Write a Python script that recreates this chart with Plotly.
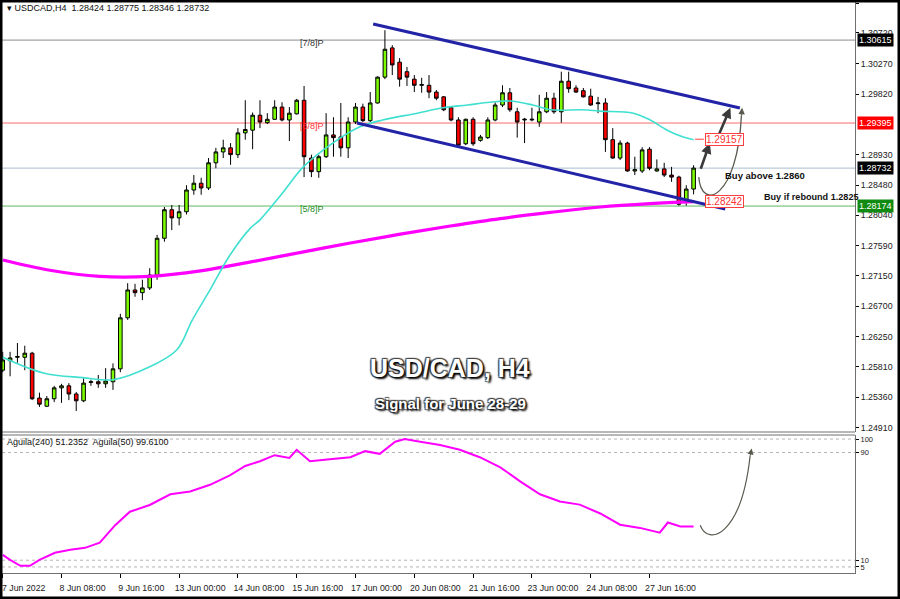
import plotly.graph_objects as go

# ---------------- data ----------------
bars = list(range(95))
opens = [1.2576, 1.2590, 1.2595, 1.2595, 1.2601, 1.2535, 1.2523, 1.2534, 1.2550, 1.2553,
         1.2541, 1.2531, 1.2558, 1.2559, 1.2556, 1.2559, 1.2578, 1.2653, 1.2694, 1.2690,
         1.2697, 1.2716, 1.2770, 1.2812, 1.2800, 1.2809, 1.2841, 1.2851, 1.2844, 1.2881,
         1.2897, 1.2903, 1.2893, 1.2925, 1.2929, 1.2951, 1.2940, 1.2945, 1.2963, 1.2944,
         1.2953, 1.2973, 1.2888, 1.2868, 1.2890, 1.2922, 1.2919, 1.2903, 1.2941, 1.2963,
         1.2943, 1.2969, 1.3007, 1.3050, 1.3029, 1.3015, 1.3004, 1.2995, 1.2995, 1.2985,
         1.2978, 1.2962, 1.2944, 1.2909, 1.2945, 1.2914, 1.2918, 1.2944, 1.2966, 1.2984,
         1.2956, 1.2944, 1.2944, 1.2941, 1.2956, 1.2976, 1.2956, 1.3001, 1.2991, 1.2987,
         1.2979, 1.2968, 1.2969, 1.2915, 1.2888, 1.2910, 1.2869, 1.2869, 1.2901, 1.2869,
         1.2872, 1.2863, 1.2860, 1.2826, 1.28424]
highs = [1.2603, 1.2603, 1.2616, 1.2612, 1.2603, 1.2543, 1.2538, 1.2553, 1.2556, 1.2557,
         1.2544, 1.2564, 1.2562, 1.2569, 1.2579, 1.2586, 1.2659, 1.2704, 1.2703, 1.2709,
         1.2726, 1.2775, 1.2816, 1.2819, 1.2819, 1.2848, 1.2863, 1.2859, 1.2888, 1.2903,
         1.2915, 1.2910, 1.2932, 1.2973, 1.2955, 1.2973, 1.2954, 1.2973, 1.2970, 1.2963,
         1.2975, 1.2994, 1.2893, 1.2893, 1.2954, 1.2948, 1.2969, 1.2948, 1.2969, 1.2968,
         1.2985, 1.3008, 1.3076, 1.3054, 1.3035, 1.3022, 1.3010, 1.3006, 1.3010, 1.2988,
         1.2979, 1.2963, 1.2948, 1.2946, 1.2948, 1.2922, 1.2948, 1.2970, 1.2995, 1.2991,
         1.2962, 1.2947, 1.2962, 1.2981, 1.2985, 1.2984, 1.3015, 1.3015, 1.2995, 1.2991,
         1.2990, 1.2978, 1.2976, 1.2932, 1.2914, 1.2912, 1.2890, 1.2904, 1.2904, 1.2886,
         1.2881, 1.2875, 1.2862, 1.2848, 1.28775]
lows = [1.2573, 1.2567, 1.2587, 1.2576, 1.2532, 1.2522, 1.2522, 1.2529, 1.2528, 1.2532,
        1.2516, 1.2529, 1.2553, 1.2550, 1.2550, 1.2547, 1.2573, 1.2650, 1.2684, 1.2679,
        1.2694, 1.2709, 1.2765, 1.2782, 1.2789, 1.2805, 1.2834, 1.2834, 1.2841, 1.2873,
        1.2888, 1.2878, 1.2888, 1.2915, 1.2901, 1.2932, 1.2938, 1.2944, 1.2942, 1.2913,
        1.2952, 1.2860, 1.2860, 1.2859, 1.2888, 1.2890, 1.2890, 1.2888, 1.2938, 1.2941,
        1.2941, 1.2968, 1.3004, 1.3010, 1.2993, 1.2994, 1.2985, 1.2984, 1.2976, 1.2973,
        1.2957, 1.2942, 1.2906, 1.2907, 1.2906, 1.2912, 1.2916, 1.2942, 1.2963, 1.2956,
        1.2918, 1.2910, 1.2942, 1.2934, 1.2954, 1.2953, 1.2940, 1.2984, 1.2984, 1.2977,
        1.2965, 1.2954, 1.2897, 1.2887, 1.2885, 1.2868, 1.2863, 1.2866, 1.2870, 1.2868,
        1.2860, 1.2853, 1.2818, 1.2818, 1.28346]
closes = [1.2591, 1.2594, 1.2596, 1.2601, 1.2534, 1.2526, 1.2534, 1.2550, 1.2553, 1.2541,
          1.2531, 1.2557, 1.2559, 1.2556, 1.2560, 1.2578, 1.2653, 1.2694, 1.2690, 1.2697,
          1.2716, 1.2770, 1.2812, 1.2800, 1.2809, 1.2841, 1.2851, 1.2844, 1.2881, 1.2897,
          1.2903, 1.2893, 1.2925, 1.2930, 1.2951, 1.2941, 1.2945, 1.2963, 1.2944, 1.2954,
          1.2973, 1.2890, 1.2868, 1.2890, 1.2922, 1.2918, 1.2903, 1.2941, 1.2963, 1.2943,
          1.2969, 1.3007, 1.3048, 1.3025, 1.3004, 1.3007, 1.2995, 1.2996, 1.2985, 1.2976,
          1.2959, 1.2944, 1.2907, 1.2945, 1.2909, 1.2919, 1.2944, 1.2966, 1.2984, 1.2959,
          1.2941, 1.2945, 1.2945, 1.2956, 1.2976, 1.2956, 1.3001, 1.2990, 1.2985, 1.2978,
          1.2966, 1.2969, 1.2915, 1.2888, 1.2910, 1.2869, 1.2871, 1.2900, 1.2873, 1.2872,
          1.2863, 1.2860, 1.2820, 1.28424, 1.28732]

# fast moving average (cyan)
ma_fast_x = [0, 5.5, 10.9, 15, 20, 23.7, 25.8, 28.2, 30.9, 33.7, 35, 38.1, 40.9, 44.9, 48.6,
             51.7, 56.4, 59.9, 63.2, 66.3, 69, 72.1, 74.5, 78.9, 81.3, 85.8, 88.1, 90.4, 92.6, 94]
ma_fast_y = [1.2595, 1.2572, 1.2565, 1.2562, 1.2581, 1.2606, 1.2650, 1.2694, 1.2745, 1.2785,
             1.2797, 1.2837, 1.2875, 1.2910, 1.2934, 1.2944, 1.2954, 1.2962, 1.2966, 1.2970,
             1.2972, 1.2966, 1.2959, 1.2959, 1.2957, 1.2954, 1.2944, 1.2929, 1.2919, 1.2915]
# slow moving average (magenta)
ma_slow_x = [0, 6.4, 13.2, 20, 26.9, 33.6, 40.4, 47.3, 54.1, 60.9, 67.7, 74.5, 81.3, 88.1, 94]
ma_slow_y = [1.2738, 1.2723, 1.2714, 1.2714, 1.2722, 1.2735, 1.2749, 1.2763, 1.2776, 1.2788,
             1.2799, 1.2808, 1.2816, 1.2821, 1.2824]

# indicator (Aguila)
ind_x = [0, 1, 2.4, 3.7, 5, 7.1, 9.2, 11.2, 13.2, 15.3, 17.3, 20, 22.8, 25.5, 28.2, 30.9, 33,
         35, 37, 39, 40, 41.8, 44.5, 47.3, 49.3, 51.3, 53.4, 54.7, 56.8, 59.5, 62.2, 64.9,
         67.7, 70.4, 73.1, 75.8, 78.5, 81.3, 84, 86.7, 89.4, 90.5, 92.2, 94]
ind_y = [14, 10.2, 5.8, 5.8, 10.2, 15.5, 17.7, 19.2, 23, 36, 46, 51, 59, 61, 66, 73, 80,
         83.5, 88, 86, 92, 83.5, 85, 86.5, 91, 89, 98, 100, 98, 95.5, 92, 86.5,
         79, 68.6, 59, 53.6, 51.3, 44.7, 36.4, 34, 30.4, 38, 35, 35]

# axis ticks / labels
x_tick_bars = [0, 8, 16, 24, 32, 40, 48, 56, 64, 72, 80, 88]
x_tick_text = ["7 Jun 2022", "8 Jun 08:00", "9 Jun 16:00", "13 Jun 00:00", "14 Jun 08:00",
               "15 Jun 16:00", "17 Jun 00:00", "20 Jun 08:00", "21 Jun 16:00", "23 Jun 00:00",
               "24 Jun 08:00", "27 Jun 16:00"]
price_ticks = [1.31160, 1.30720, 1.30270, 1.29820, 1.28930, 1.28480, 1.28040, 1.27590,
               1.27150, 1.26700, 1.26250, 1.25810, 1.25360, 1.24910]
ind_ticks = [100, 90, 10, 5]

# horizontal levels: (price, line colour, box colour, label, label colour)
levels = [(1.30615, "#8c8c8c", "#000000", "[7/8]P", "#333333"),
          (1.29395, "#ff6a6a", "#ff0000", "[6/8]P", "#ff3030"),
          (1.28732, "#a9bccf", "#000000", None, None),
          (1.28174, "#5fb85f", "#108a10", "[5/8]P", "#1f8f1f")]

# channel lines (bar, price)
upper_channel = [(50.4, 1.30851), (100.3, 1.29616)]
lower_channel = [(48.2, 1.29395), (98.3, 1.28131)]

# ---------------- figure ----------------
W, H = 900, 599
L, R, T, B = 2, 45, 2, 26
pw, ph = W - L - R, H - T - B


def py(pix):  # pixel row -> paper y
    return (H - B - pix) / ph


def px(pix):  # pixel column -> paper x
    return (pix - L) / pw


fig = go.Figure()

fig.add_trace(go.Scatter(x=ma_slow_x, y=ma_slow_y, mode="lines", line=dict(color="#ff00ff", width=3.2, shape="spline"),
                         hoverinfo="skip", showlegend=False, xaxis="x", yaxis="y"))
fig.add_trace(go.Scatter(x=ma_fast_x, y=ma_fast_y, mode="lines", line=dict(color="#40e0d0", width=1.6, shape="spline"),
                         hoverinfo="skip", showlegend=False, xaxis="x", yaxis="y"))
fig.add_trace(go.Candlestick(x=bars, open=opens, high=highs, low=lows, close=closes,
                             increasing=dict(line=dict(color="#000000", width=1), fillcolor="#7cfc00"),
                             decreasing=dict(line=dict(color="#000000", width=1), fillcolor="#ff0000"),
                             whiskerwidth=0, showlegend=False, hoverinfo="skip", xaxis="x", yaxis="y"))
fig.add_trace(go.Scatter(x=ind_x, y=ind_y, mode="lines", line=dict(color="#ff00ff", width=2),
                         hoverinfo="skip", showlegend=False, xaxis="x", yaxis="y2"))

shapes = []
annotations = []

# levels
for price, lc, bc, lab, labc in levels:
    shapes.append(dict(type="line", xref="paper", x0=0, x1=1, yref="y", y0=price, y1=price,
                       line=dict(color=lc, width=1), layer="below"))
    annotations.append(dict(xref="paper", x=px(857), xanchor="left", yref="y", y=price, yanchor="middle",
                            text=f"{price:.5f}", showarrow=False, bgcolor=bc, borderpad=1,
                            font=dict(family="Liberation Sans, Arial", size=9, color="white")))
    if lab:
        annotations.append(dict(xref="x", x=40.2, xanchor="left", yref="y", y=price - 0.0004, yanchor="middle",
                                text=lab, showarrow=False,
                                font=dict(family="Liberation Sans, Arial", size=9, color=labc)))

# channel
for (xa, ya), (xb, yb) in [upper_channel, lower_channel]:
    shapes.append(dict(type="line", xref="x", yref="y", x0=xa, y0=ya, x1=xb, y1=yb,
                       line=dict(color="#2323a8", width=3)))

# indicator dotted levels
for v in ind_ticks:
    shapes.append(dict(type="line", xref="paper", x0=0, x1=1, yref="y2", y0=v, y1=v,
                       line=dict(color="#b4b4b4", width=1, dash="dot"), layer="below"))

# pane frames
shapes.append(dict(type="line", xref="paper", yref="paper", x0=0, x1=1, y0=py(432), y1=py(432),
                   line=dict(color="#707070", width=1)))
shapes.append(dict(type="line", xref="paper", yref="paper", x0=0, x1=1, y0=py(435), y1=py(435),
                   line=dict(color="#707070", width=1)))
# outer black frame
shapes.append(dict(type="rect", xref="paper", yref="paper", x0=px(0), x1=px(W), y0=py(H), y1=py(0),
                   line=dict(color="#000000", width=5)))

# projection arrows (main pane)
annotations.append(dict(xref="x", yref="y", axref="x", ayref="y", x=96.2, y=1.2910, ax=94.9, ay=1.2870,
                        text="", showarrow=True, arrowhead=2, arrowsize=0.8, arrowwidth=2.6, arrowcolor="#3a3a3a"))
annotations.append(dict(xref="x", yref="y", axref="x", ayref="y", x=99.0, y=1.2962, ax=97.3, ay=1.2919,
                        text="", showarrow=True, arrowhead=2, arrowsize=0.8, arrowwidth=2.6, arrowcolor="#3a3a3a"))
shapes.append(dict(type="path", xref="x", yref="y",
                   path="M 94.7,1.2860 C 95.1,1.2808 100.0,1.2830 100.5,1.2950",
                   line=dict(color="#5a5a50", width=1.3)))
annotations.append(dict(xref="x", yref="y", axref="x", ayref="y", x=100.6, y=1.2962, ax=100.5, ay=1.2948,
                        text="", showarrow=True, arrowhead=2, arrowsize=1, arrowwidth=1.3, arrowcolor="#5a5a50"))

# indicator curved arrow
shapes.append(dict(type="path", xref="x", yref="y2",
                   path="M 94.9,36 C 96.0,20 100.5,28 101.7,88",
                   line=dict(color="#5a5a50", width=1.2)))
annotations.append(dict(xref="x", yref="y2", axref="x", ayref="y2", x=101.9, y=93, ax=101.7, ay=87,
                        text="", showarrow=True, arrowhead=2, arrowsize=1, arrowwidth=1.2, arrowcolor="#5a5a50"))

# price tags
shapes.append(dict(type="line", xref="x", yref="y", x0=94.2, x1=95.4, y0=1.29157, y1=1.29157,
                   line=dict(color="#ff4040", width=1)))
for val in [1.29157, 1.28242]:
    annotations.append(dict(xref="x", x=95.5, xanchor="left", yref="y", y=val, yanchor="middle",
                            text=f"{val:.5f}", showarrow=False, bgcolor="white", bordercolor="#ff4040",
                            borderwidth=1, borderpad=0,
                            font=dict(family="Liberation Sans, Arial", size=10, color="#ff3030")))

# texts
annotations.append(dict(xref="x", x=98.0, xanchor="left", yref="y", y=1.2862, yanchor="middle",
                        text="<b>Buy above 1.2860</b>", showarrow=False,
                        font=dict(family="Liberation Sans, Arial", size=9.5, color="#111111")))
annotations.append(dict(xref="x", x=103.3, xanchor="left", yref="y", y=1.2830, yanchor="middle",
                        text="<b>Buy if rebound 1.2825</b>", showarrow=False,
                        font=dict(family="Liberation Sans, Arial", size=9.1, color="#111111")))
shadow = "2px 2px 2px #000, -1px -1px 1px #444, 1px -1px 1px #444, -1px 1px 1px #444"
annotations.append(dict(xref="paper", x=px(450), yref="paper", y=py(368), text="<b>USD/CAD, H4</b>",
                        showarrow=False, xanchor="center", yanchor="middle",
                        font=dict(family="Liberation Sans, Arial", size=25, color="white", shadow=shadow)))
annotations.append(dict(xref="paper", x=px(450), yref="paper", y=py(403), text="<b>Signal for June 28-29</b>",
                        showarrow=False, xanchor="center", yanchor="middle",
                        font=dict(family="Liberation Sans, Arial", size=15, color="white", shadow=shadow)))
annotations.append(dict(xref="paper", x=px(5), yref="paper", y=py(8), xanchor="left", yanchor="middle",
                        text="▾ USDCAD,H4  1.28424 1.28775 1.28346 1.28732", showarrow=False,
                        font=dict(family="Liberation Sans, Arial", size=9, color="#111111")))
annotations.append(dict(xref="paper", x=px(5), yref="paper", y=py(442), xanchor="left", yanchor="middle",
                        text="Aguila(240) 51.2352  Aguila(50) 99.6100", showarrow=False,
                        font=dict(family="Liberation Sans, Arial", size=9, color="#111111")))

axfont = dict(family="Liberation Sans, Arial", size=8.8, color="#202020")
indfont = dict(family="Liberation Sans, Arial", size=7.5, color="#202020")
fig.update_layout(
    width=W, height=H, margin=dict(l=L, r=R, t=T, b=B, pad=0, autoexpand=False),
    paper_bgcolor="white", plot_bgcolor="white", showlegend=False,
    xaxis=dict(range=[-0.1, 115.96], anchor="y2", tickmode="array", tickvals=x_tick_bars, ticktext=x_tick_text,
               ticks="outside", ticklen=4, tickcolor="#000", showgrid=False, zeroline=False,
               showline=True, linecolor="#707070", rangeslider=dict(visible=False), tickfont=axfont,
               ticklabelshift=21, ticklabelstandoff=2, automargin=False),
    yaxis=dict(domain=[py(432), 1], range=[1.24851, 1.31175], side="right", tickmode="array",
               tickvals=price_ticks, ticktext=[f"{v:.5f}" for v in price_ticks], ticks="outside", ticklen=3,
               tickcolor="#000", showgrid=False, zeroline=False, showline=True, linecolor="#707070",
               tickfont=axfont, automargin=False),
    yaxis2=dict(domain=[0, py(435)], range=[0.5, 103], side="right", tickmode="array", tickvals=ind_ticks,
                ticktext=[str(v) for v in ind_ticks], ticks="outside", ticklen=3, tickcolor="#000",
                showgrid=False, zeroline=False, showline=True, linecolor="#707070", tickfont=indfont,
                anchor="x", automargin=False),
    shapes=shapes, annotations=annotations,
)

fig.write_html("out.html", config={"displayModeBar": False},
               post_script="document.body.style.margin='0';document.body.style.padding='0';"
                           "document.body.style.overflow='hidden';")
